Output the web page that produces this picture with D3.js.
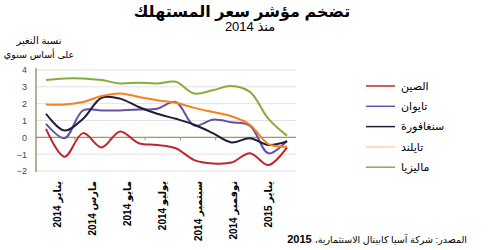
<!DOCTYPE html>
<html>
<head>
<meta charset="utf-8">
<script src="https://cdn.jsdelivr.net/npm/d3@7"></script>
<style>
  body { margin: 0; background: #fff; }
  text { font-family: "Liberation Sans", "DejaVu Sans", sans-serif; }
</style>
</head>
<body>
<svg id="chart"></svg>
<script>
var w = 500;
var h = 250;

// Jan 2014 .. Feb 2015, year-on-year change %
var periods = ["2014-01","2014-02","2014-03","2014-04","2014-05","2014-06","2014-07",
               "2014-08","2014-09","2014-10","2014-11","2014-12","2015-01","2015-02"];
var china     = [0.5, -1.15, 0.25, -0.6, 0.35, -0.35, -0.45, -0.65, -1.35, -1.55, -1.5, -0.95, -1.65, -0.6];
var taiwan    = [0.8, -0.05, 1.6, 1.6, 1.6, 1.65, 1.7, 2.1, 0.7, 1.05, 0.9, 0.7, -0.95, -0.2];
var singapore = [1.4, 0.4, 1.1, 2.35, 2.3, 1.8, 1.4, 1.1, 0.75, 0.25, -0.3, -0.05, -0.45, -0.25];
var thailand  = [1.95, 1.95, 2.1, 2.45, 2.6, 2.4, 2.2, 2.05, 1.75, 1.5, 1.25, 0.75, -0.4, -0.55];
var malaysia  = [3.4, 3.5, 3.5, 3.4, 3.2, 3.25, 3.2, 3.3, 2.6, 2.8, 3.05, 2.7, 1.1, 0.1];

var seriesNames = ["الصين", "تايوان", "سنغافورة", "تايلند", "ماليزيا"];
var seriesValues = [china, taiwan, singapore, thailand, malaysia];
var colors = ["#c0272d", "#6650a4", "#221d38", "#f58220", "#86ad3c"];

var yTicks = [-2, -1, 0, 1, 2, 3, 4];
var tickLabels = ["يناير 2014", "مارس 2014", "مايو 2014", "يوليو 2014",
                  "سبتمبر 2014", "نوفمبر 2014", "يناير 2015"];

var svg = d3.select("#chart")
    .attr("width", w)
    .attr("height", h);

svg.append("rect").attr("width", w).attr("height", h).attr("fill", "#fff");

var x = d3.scaleLinear().domain([0, periods.length - 1]).range([46, 287]);
var y = d3.scaleLinear().domain([-2, 4]).range([171, 70]);
// month labels sit on their own spacing, a little off the points
var xl = d3.scalePoint().domain(tickLabels).range([x(0.6), x(12)]);

// title
svg.append("text")
    .attr("x", 242).attr("y", 17)
    .attr("text-anchor", "middle")
    .style("font-size", "16px").style("font-weight", "bold")
    .text("تضخم مؤشر سعر المستهلك");
svg.append("text")
    .attr("x", 250).attr("y", 31)
    .attr("text-anchor", "middle")
    .style("font-size", "13px")
    .text("منذ 2014");

// y title
svg.append("text").attr("x", 39).attr("y", 44).attr("text-anchor", "middle")
    .style("font-size", "10px").text("نسبة التغير");
svg.append("text").attr("x", 39).attr("y", 58).attr("text-anchor", "middle")
    .style("font-size", "9.5px").text("على أساس سنوي");

// grid
svg.append("g").selectAll("line")
    .data(yTicks)
    .enter().append("line")
    .attr("x1", 36).attr("x2", 296)
    .attr("y1", d => y(d)).attr("y2", d => y(d))
    .style("stroke", d => d === 0 ? "#9a9a62" : "#e2e2e2")
    .style("stroke-width", d => d === 0 ? 1.3 : 1);

// y axis
var yAxis = d3.axisLeft(y).tickValues(yTicks).tickFormat(d3.format("d")).tickSize(0).tickPadding(9);
var ya = svg.append("g").attr("transform", "translate(36,0)").call(yAxis);
ya.select(".domain").attr("d", "M0," + (y(4) - 2) + "V" + (y(-2) + 1))
    .style("stroke", "#8c8c5c").style("stroke-width", 1.3);
ya.selectAll("text").style("font-size", "9px").style("fill", "#444");

// small ticks on the zero line, between the month labels
var mids = d3.pairs(tickLabels).map(p => (xl(p[0]) + xl(p[1])) / 2);
svg.append("g").selectAll("line")
    .data(mids)
    .enter().append("line")
    .attr("x1", d => d).attr("x2", d => d)
    .attr("y1", y(0)).attr("y2", y(0) + 3)
    .style("stroke", "#9a9a62");

// month labels
svg.append("g").selectAll("text")
    .data(tickLabels)
    .enter().append("text")
    .attr("transform", d => "translate(" + xl(d) + ",181) rotate(-90)")
    .attr("text-anchor", "end")
    .attr("dy", "0.35em")
    .style("font-size", "10px").style("font-weight", "bold")
    .text(d => d);

// lines
var line = d3.line()
    .x((d, i) => x(i))
    .y(d => y(d))
    .curve(d3.curveCatmullRom.alpha(0.5));

svg.append("g").selectAll("path")
    .data(seriesValues)
    .enter().append("path")
    .attr("d", line)
    .style("fill", "none")
    .style("stroke", (d, i) => colors[i])
    .style("stroke-width", 2);

// legend
var legend = svg.append("g").selectAll("g")
    .data(seriesNames)
    .enter().append("g")
    .attr("transform", (d, i) => "translate(0," + (86 + i * 20.3) + ")");
legend.append("line")
    .attr("x1", 366).attr("x2", 395)
    .style("stroke", (d, i) => colors[i])
    .style("stroke-width", 1.5)
    .style("opacity", (d, i) => i === 3 ? 0.35 : 1);
legend.append("text")
    .attr("x", 401).attr("dy", "0.35em")
    .style("font-size", "11px")
    .text(d => d);

// source
var src = svg.append("text")
    .attr("x", 467).attr("y", 243)
    .attr("text-anchor", "end")
    .style("font-size", "9.5px")
    .text("المصدر: شركة آسيا كابيتال الاستثمارية،\u200F");
var sw = src.node().getComputedTextLength();
svg.append("text")
    .attr("x", 467 - sw - 3).attr("y", 243)
    .attr("text-anchor", "end")
    .style("font-size", "11px").style("font-weight", "bold")
    .text("2015");
</script>
</body>
</html>
